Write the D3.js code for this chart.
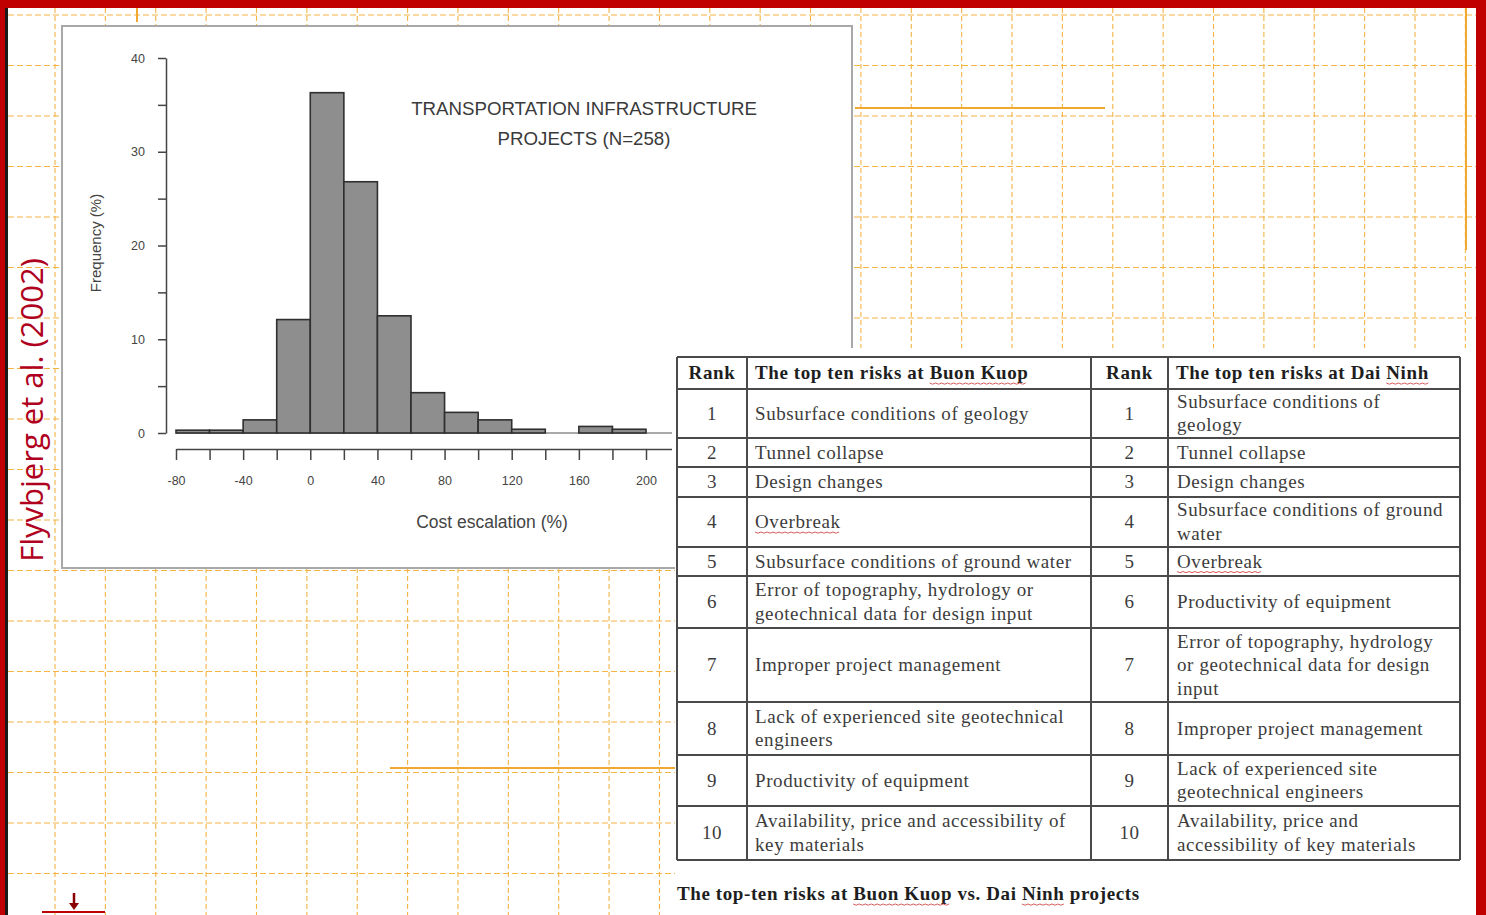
<!DOCTYPE html>
<html>
<head>
<meta charset="utf-8">
<script src="https://cdn.jsdelivr.net/npm/d3@7"></script>
<style>
body { margin: 0; background: #fff; }
svg { display: block; }
</style>
</head>
<body>
<script>
/* global d3 */
var width  = 1486;
var height = 915;

// histogram: cost escalation of transport projects (Flyvbjerg et al. 2002)
var binStarts = [-80, -60, -40, -20, 0, 20, 40, 60, 80, 100, 120, 140, 160, 180];
var binWidth  = 20;
var frequency = [0.3, 0.3, 1.4, 12.1, 36.3, 26.8, 12.5, 4.3, 2.2, 1.4, 0.4, 0, 0.7, 0.4];
var yTicks      = [0, 5, 10, 15, 20, 25, 30, 35, 40];
var yTickLabels = [0, 10, 20, 30, 40];
var xTicks      = [-80, -60, -40, -20, 0, 20, 40, 60, 80, 100, 120, 140, 160, 180, 200];
var xTickLabels = [-80, -40, 0, 40, 80, 120, 160, 200];

// table: top ten risks
var ranks = [1, 2, 3, 4, 5, 6, 7, 8, 9, 10];
var buonKuopRisks = [
  ['Subsurface conditions of geology'],
  ['Tunnel collapse'],
  ['Design changes'],
  ['Overbreak'],
  ['Subsurface conditions of ground water'],
  ['Error of topography, hydrology or', 'geotechnical data for design input'],
  ['Improper project management'],
  ['Lack of experienced site geotechnical', 'engineers'],
  ['Productivity of equipment'],
  ['Availability, price and accessibility of', 'key materials']
];
var daiNinhRisks = [
  ['Subsurface conditions of', 'geology'],
  ['Tunnel collapse'],
  ['Design changes'],
  ['Subsurface conditions of ground', 'water'],
  ['Overbreak'],
  ['Productivity of equipment'],
  ['Error of topography, hydrology', 'or geotechnical data for design', 'input'],
  ['Improper project management'],
  ['Lack of experienced site', 'geotechnical engineers'],
  ['Availability, price and', 'accessibility of key materials']
];
var headers = ['Rank', 'The top ten risks at Buon Kuop', 'Rank', 'The top ten risks at Dai Ninh'];
var caption = 'The top-ten risks at Buon Kuop vs. Dai Ninh projects';

// layout
var rowEdges = [357, 389, 438, 467, 497, 547, 576, 628, 702, 755, 806, 860];
var colEdges = [677, 747, 1091, 1168, 1460];
var gridColor = '#f3b444';
var serif = '"Liberation Serif", "Times New Roman", serif';
var sans  = '"Liberation Sans", Arial, sans-serif';

var svg = d3.select('body')
  .append('svg')
  .attr('width', width)
  .attr('height', height)
  .attr('viewBox', [0, 0, width, height].join(' '));

svg.append('rect').attr('width', width).attr('height', height).attr('fill', '#fff');

/*
* Dashed orange paper grid behind everything
*/
var grid = svg.append('g');
d3.range(55, 1470, 50.37).forEach(function(gx) {
  grid.append('line')
    .attr('x1', gx).attr('x2', gx).attr('y1', 8).attr('y2', height)
    .attr('stroke', gridColor).attr('stroke-width', 1.1)
    .attr('stroke-dasharray', '5,3');
});
d3.range(15, height, 50.5).forEach(function(gy) {
  grid.append('line')
    .attr('x1', 8).attr('x2', 1476).attr('y1', gy).attr('y2', gy)
    .attr('stroke', gridColor).attr('stroke-width', 1.1)
    .attr('stroke-dasharray', '6,3');
});
[[1466, 8, 1466, 250], [855, 108, 1105, 108], [390, 768, 676, 768], [137, 8, 137, 22]].forEach(function(s) {
  grid.append('line')
    .attr('x1', s[0]).attr('y1', s[1]).attr('x2', s[2]).attr('y2', s[3])
    .attr('stroke', '#f0a830').attr('stroke-width', 2);
});

// red slide frame
svg.append('rect').attr('x', 0).attr('y', 0).attr('width', width).attr('height', 8).attr('fill', '#c00000');
svg.append('rect').attr('x', 0).attr('y', 0).attr('width', 8).attr('height', height).attr('fill', '#c00000');
svg.append('rect').attr('x', 5).attr('y', 8).attr('width', 3).attr('height', height).attr('fill', '#1a1a1a');
svg.append('rect').attr('x', 1476).attr('y', 0).attr('width', 10).attr('height', height).attr('fill', '#c00000');

// source label
svg.append('text')
  .attr('transform', 'translate(43,410) rotate(-90)')
  .attr('text-anchor', 'middle')
  .attr('font-family', '"Open Sans", sans-serif')
  .attr('font-size', 31)
  .attr('fill', '#b00020')
  .text('Flyvbjerg et al. (2002)');

// little down arrow at bottom left
svg.append('line').attr('x1', 42).attr('x2', 105).attr('y1', 912).attr('y2', 912)
  .attr('stroke', '#c00000').attr('stroke-width', 2);
svg.append('line').attr('x1', 74).attr('x2', 74).attr('y1', 893).attr('y2', 904)
  .attr('stroke', '#8b0000').attr('stroke-width', 2.5);
svg.append('path').attr('d', 'M69,903 L79,903 L74,910 Z').attr('fill', '#8b0000');

/*
* Histogram panel
*/
var panel = svg.append('g');
panel.append('rect')
  .attr('x', 62).attr('y', 26).attr('width', 790).attr('height', 542)
  .attr('fill', '#fff').attr('stroke', '#a8a8a8').attr('stroke-width', 2);

var x = d3.scaleLinear().domain([-80, 200]).range([176, 646]);
var y = d3.scaleLinear().domain([0, 40]).range([433, 58]);

panel.append('line')
  .attr('x1', x(-80)).attr('x2', 672).attr('y1', y(0)).attr('y2', y(0))
  .attr('stroke', '#555').attr('stroke-width', 1);

panel.selectAll('.bar')
  .data(binStarts.map(function(b, i) { return {x0: b, f: frequency[i]}; }))
  .enter().append('rect')
  .attr('class', 'bar')
  .attr('x', function(d) { return x(d.x0); })
  .attr('width', function(d) { return x(d.x0 + binWidth) - x(d.x0); })
  .attr('y', function(d) { return y(d.f); })
  .attr('height', function(d) { return y(0) - y(d.f); })
  .attr('fill', '#8e8e8e')
  .attr('stroke', '#2f2f2f')
  .attr('stroke-width', 1.6);

var yAxis = panel.append('g')
  .attr('transform', 'translate(166,0)')
  .call(d3.axisLeft(y).tickValues(yTicks).tickSize(8).tickSizeOuter(0).tickPadding(13)
    .tickFormat(function(d) { return yTickLabels.indexOf(d) >= 0 ? d : ''; }));

var xAxis = panel.append('g')
  .attr('transform', 'translate(0,449)')
  .call(d3.axisBottom(x).tickValues(xTicks).tickSize(11).tickSizeOuter(0).tickPadding(16)
    .tickFormat(function(d) { return xTickLabels.indexOf(d) >= 0 ? d : ''; }));

panel.append('line')
  .attr('x1', x(200)).attr('x2', 672).attr('y1', 449.5).attr('y2', 449.5)
  .attr('stroke', '#444').attr('stroke-width', 1.5);

[yAxis, xAxis].forEach(function(ax) {
  ax.selectAll('path, line').attr('stroke', '#444').attr('stroke-width', 1.5);
  ax.selectAll('text').attr('font-family', sans).attr('font-size', 12.5).attr('fill', '#444');
});

panel.append('text')
  .attr('transform', 'translate(101,243) rotate(-90)')
  .attr('text-anchor', 'middle')
  .attr('font-family', sans).attr('font-size', 15).attr('fill', '#444')
  .text('Frequency (%)');

panel.append('text')
  .attr('x', 492).attr('y', 528)
  .attr('text-anchor', 'middle')
  .attr('font-family', sans).attr('font-size', 17.5).attr('fill', '#444')
  .text('Cost escalation (%)');

panel.selectAll('.title')
  .data(['TRANSPORTATION INFRASTRUCTURE', 'PROJECTS (N=258)'])
  .enter().append('text')
  .attr('class', 'title')
  .attr('x', 584)
  .attr('y', function(d, i) { return 115 + i * 30; })
  .attr('text-anchor', 'middle')
  .attr('font-family', sans).attr('font-size', 18.7).attr('fill', '#3a3a3a')
  .text(function(d) { return d; });

/*
* Risk table
*/
var table = svg.append('g');
table.append('rect')
  .attr('x', 675).attr('y', 348).attr('width', 801).attr('height', height - 348)
  .attr('fill', '#fff');

function cellText(xPos, anchor, rowTop, rowBottom, lines, bold) {
  var mid = (rowTop + rowBottom) / 2;
  var lh = 23.5;
  var first = mid - (lines.length - 1) * lh / 2 + 6;
  lines.forEach(function(line, i) {
    table.append('text')
      .attr('x', xPos)
      .attr('y', first + i * lh)
      .attr('text-anchor', anchor)
      .attr('font-family', serif)
      .attr('font-size', 19)
      .attr('letter-spacing', 0.6)
      .attr('font-weight', bold ? 'bold' : 'normal')
      .attr('fill', bold ? '#1e1e1e' : '#3c3c3c')
      .text(line);
  });
}

headers.forEach(function(h, i) {
  var isRank = i % 2 === 0;
  var cx = isRank ? (colEdges[i] + colEdges[i + 1]) / 2 : colEdges[i] + 8;
  cellText(cx, isRank ? 'middle' : 'start', rowEdges[0], rowEdges[1], [h], true);
});

ranks.forEach(function(r, i) {
  var top = rowEdges[i + 1], bottom = rowEdges[i + 2];
  cellText((colEdges[0] + colEdges[1]) / 2, 'middle', top, bottom, [String(r)], false);
  cellText(colEdges[1] + 8, 'start', top, bottom, buonKuopRisks[i], false);
  cellText((colEdges[2] + colEdges[3]) / 2, 'middle', top, bottom, [String(r)], false);
  cellText(colEdges[3] + 9, 'start', top, bottom, daiNinhRisks[i], false);
});

rowEdges.forEach(function(ry) {
  table.append('line')
    .attr('x1', colEdges[0]).attr('x2', colEdges[colEdges.length - 1])
    .attr('y1', ry).attr('y2', ry)
    .attr('stroke', '#4a4a4a').attr('stroke-width', 2);
});
colEdges.forEach(function(cx) {
  table.append('line')
    .attr('x1', cx).attr('x2', cx)
    .attr('y1', rowEdges[0]).attr('y2', rowEdges[rowEdges.length - 1])
    .attr('stroke', '#4a4a4a').attr('stroke-width', 2);
});

table.append('text')
  .attr('x', 677).attr('y', 900)
  .attr('font-family', serif).attr('font-size', 19).attr('font-weight', 'bold')
  .attr('letter-spacing', 0.6)
  .attr('fill', '#1e1e1e')
  .text(caption);

// red spell-check squiggles under a few words
var flagged = ['Buon Kuop', 'Ninh', 'Overbreak'];
table.selectAll('text').each(function() {
  var node = this, s = node.textContent;
  flagged.forEach(function(w) {
    var k = s.indexOf(w);
    if (k < 0) return;
    var x0 = +node.getAttribute('x') + (k > 0 ? node.getSubStringLength(0, k) : 0);
    var wl = node.getSubStringLength(k, w.length);
    var by = +node.getAttribute('y') + 4;
    table.append('path')
      .attr('d', d3.range(0, wl, 3).map(function(t, j) {
        return (j ? 'L' : 'M') + (x0 + t) + ',' + (by + (j % 2 ? 1.2 : 0));
      }).join(''))
      .attr('fill', 'none').attr('stroke', '#d04a4a').attr('stroke-width', 0.9);
  });
});
</script>
</body>
</html>
